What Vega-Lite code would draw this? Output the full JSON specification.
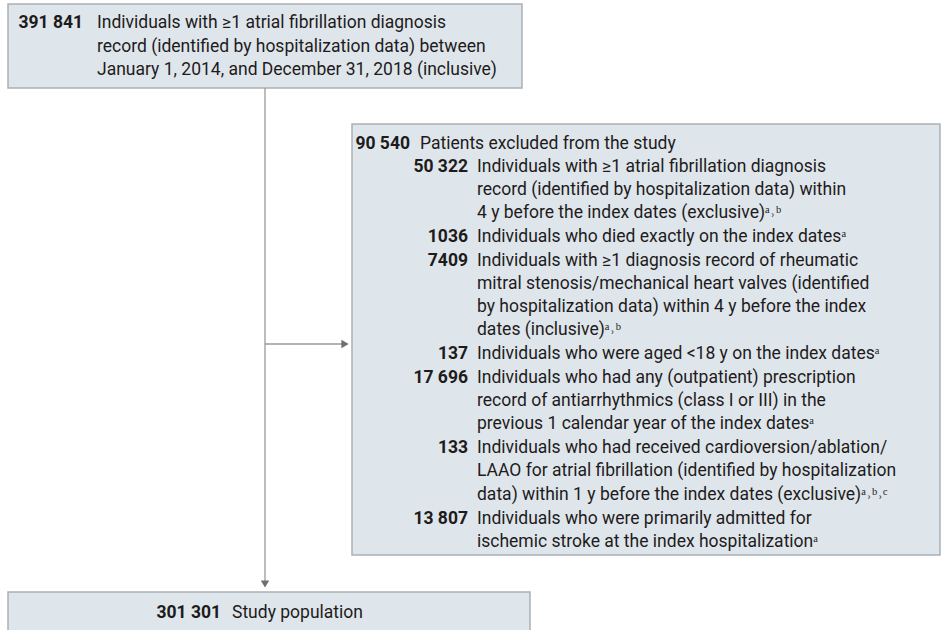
{
  "$schema": "https://vega.github.io/schema/vega-lite/v6.json",
  "width": 943,
  "height": 630,
  "autosize": {"type": "none"},
  "padding": 0,
  "background": "white",
  "config": {"view": {"stroke": null}},
  "datasets": {
    "boxes": [
      {"box": "start", "x1": 8, "x2": 522, "y1": 4, "y2": 88},
      {"box": "excluded", "x1": 352, "x2": 940, "y1": 124, "y2": 555},
      {"box": "study", "x1": 8, "x2": 530, "y1": 592, "y2": 645}
    ],
    "links": [
      {"x1": 265, "x2": 265, "y1": 88, "y2": 583},
      {"x1": 265, "x2": 344, "y1": 344, "y2": 344}
    ],
    "heads_down": [{"x": 265, "y": 584}],
    "heads_right": [{"x": 345, "y": 344}],
    "counts": [
      {"x": 83, "y": 22, "n": "391 841"},
      {"x": 410, "y": 143, "n": "90 540"},
      {"x": 468, "y": 166, "n": "50 322"},
      {"x": 468, "y": 236, "n": "1036"},
      {"x": 468, "y": 260, "n": "7409"},
      {"x": 468, "y": 353, "n": "137"},
      {"x": 468, "y": 377, "n": "17 696"},
      {"x": 468, "y": 447, "n": "133"},
      {"x": 468, "y": 518, "n": "13 807"},
      {"x": 221, "y": 612, "n": "301 301"}
    ],
    "labels": [
      {"x": 97, "y": 22, "t": "Individuals with ≥1 atrial fibrillation diagnosis"},
      {"x": 97, "y": 46, "t": "record (identified by hospitalization data) between"},
      {"x": 97, "y": 69, "t": "January 1, 2014, and December 31, 2018 (inclusive)"},
      {"x": 420, "y": 143, "t": "Patients excluded from the study"},
      {"x": 477, "y": 166, "t": "Individuals with ≥1 atrial fibrillation diagnosis"},
      {"x": 477, "y": 189, "t": "record (identified by hospitalization data) within"},
      {"x": 477, "y": 212, "t": "4 y before the index dates (exclusive)ᵃ˒ᵇ"},
      {"x": 477, "y": 236, "t": "Individuals who died exactly on the index datesᵃ"},
      {"x": 477, "y": 260, "t": "Individuals with ≥1 diagnosis record of rheumatic"},
      {"x": 477, "y": 283, "t": "mitral stenosis/mechanical heart valves (identified"},
      {"x": 477, "y": 306, "t": "by hospitalization data) within 4 y before the index"},
      {"x": 477, "y": 329, "t": "dates (inclusive)ᵃ˒ᵇ"},
      {"x": 477, "y": 353, "t": "Individuals who were aged <18 y on the index datesᵃ"},
      {"x": 477, "y": 377, "t": "Individuals who had any (outpatient) prescription"},
      {"x": 477, "y": 400, "t": "record of antiarrhythmics (class I or III) in the"},
      {"x": 477, "y": 423, "t": "previous 1 calendar year of the index datesᵃ"},
      {"x": 477, "y": 447, "t": "Individuals who had received cardioversion/ablation/"},
      {"x": 477, "y": 470, "t": "LAAO for atrial fibrillation (identified by hospitalization"},
      {"x": 477, "y": 494, "t": "data) within 1 y before the index dates (exclusive)ᵃ˒ᵇ˒ᶜ"},
      {"x": 477, "y": 518, "t": "Individuals who were primarily admitted for"},
      {"x": 477, "y": 541, "t": "ischemic stroke at the index hospitalizationᵃ"},
      {"x": 232, "y": 612, "t": "Study population"}
    ]
  },
  "layer": [
    {
      "data": {"name": "boxes"},
      "mark": {"type": "rect", "fill": "#dfe6eb", "stroke": "#a9b1b6", "strokeWidth": 1.5},
      "encoding": {
        "x": {"field": "x1", "type": "quantitative", "axis": null, "scale": {"domain": [0, 943], "range": [0, 943], "nice": false, "zero": false}},
        "x2": {"field": "x2"},
        "y": {"field": "y1", "type": "quantitative", "axis": null, "scale": {"domain": [0, 630], "range": [0, 630], "nice": false, "zero": false}},
        "y2": {"field": "y2"}
      }
    },
    {
      "data": {"name": "links"},
      "mark": {"type": "rule", "color": "#9a9a9a", "strokeWidth": 1.3},
      "encoding": {
        "x": {"field": "x1", "type": "quantitative"},
        "x2": {"field": "x2"},
        "y": {"field": "y1", "type": "quantitative"},
        "y2": {"field": "y2"}
      }
    },
    {
      "data": {"name": "heads_down"},
      "mark": {"type": "point", "shape": "triangle-down", "filled": true, "color": "#6e6e6e", "size": 70, "opacity": 1},
      "encoding": {
        "x": {"field": "x", "type": "quantitative"},
        "y": {"field": "y", "type": "quantitative"}
      }
    },
    {
      "data": {"name": "heads_right"},
      "mark": {"type": "point", "shape": "triangle-right", "filled": true, "color": "#6e6e6e", "size": 70, "opacity": 1},
      "encoding": {
        "x": {"field": "x", "type": "quantitative"},
        "y": {"field": "y", "type": "quantitative"}
      }
    },
    {
      "data": {"name": "counts"},
      "mark": {"type": "text", "align": "right", "baseline": "middle", "dy": 1, "font": "Roboto", "fontSize": 17.5, "fontWeight": "bold", "color": "#1e1b1c"},
      "encoding": {
        "x": {"field": "x", "type": "quantitative"},
        "y": {"field": "y", "type": "quantitative"},
        "text": {"field": "n"}
      }
    },
    {
      "data": {"name": "labels"},
      "mark": {"type": "text", "align": "left", "baseline": "middle", "dy": 1, "font": "Roboto", "fontSize": 17.5, "color": "#1e1b1c"},
      "encoding": {
        "x": {"field": "x", "type": "quantitative"},
        "y": {"field": "y", "type": "quantitative"},
        "text": {"field": "t"}
      }
    }
  ]
}
